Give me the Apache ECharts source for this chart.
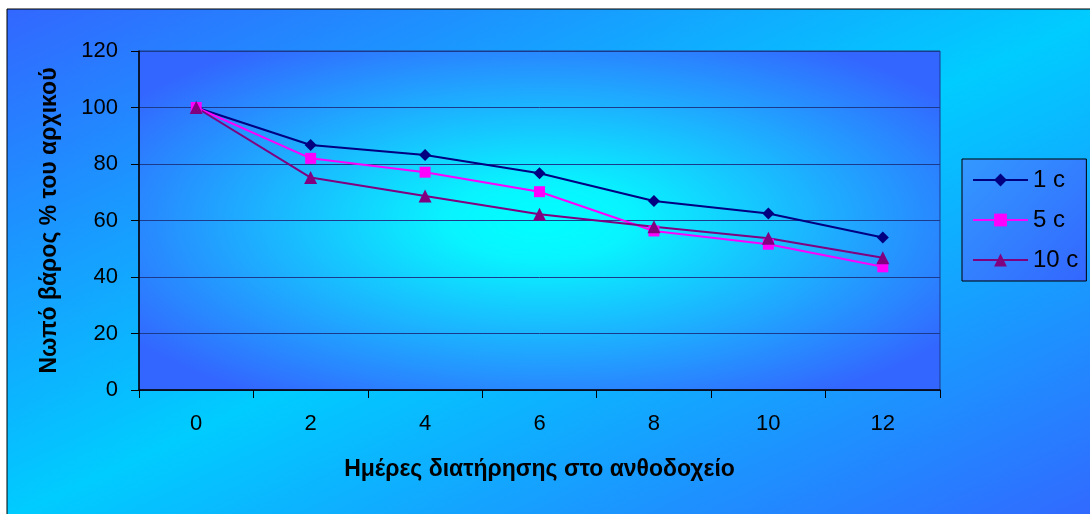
<!DOCTYPE html>
<html>
<head>
<meta charset="utf-8">
<script src="https://cdn.jsdelivr.net/npm/echarts@6/dist/echarts.min.js"></script>
<style>
  html, body { margin: 0; padding: 0; background: #ffffff; }
  #chart { width: 1090px; height: 514px; }
</style>
</head>
<body>
<div id="chart"></div>
<script>
// Days kept in the vase (category axis)
const days = ['0', '2', '4', '6', '8', '10', '12'];

// Fresh weight as % of the initial weight, per storage temperature
const series1c = [100, 86.7, 83.2, 76.7, 66.9, 62.5, 54.0];
const series5c = [100, 82.0, 77.1, 70.2, 56.3, 51.6, 43.6];
const series10c = [100, 75.2, 68.7, 62.2, 57.8, 53.7, 46.8];

const seriesNames = ['1 c', '5 c', '10 c'];

// Value axis ticks
const yMin = 0, yMax = 120, yStep = 20;

const xTitle = 'Ημέρες διατήρησης στο ανθοδοχείο';
const yTitle = 'Νωπό βάρος % του αρχικού';

const FONT = '"Liberation Sans", Arial, sans-serif';

// Plot rectangle
const G = { left: 139, top: 51, width: 801, height: 339 };

// Outer diagonal gradient: blue corners top-left / bottom-right, cyan along the other diagonal
const W = 1083, H = 505;
const s = H * H / (H * H + W * W);
const outerFill = new echarts.graphic.LinearGradient(0.5 - s, -(0.5 - s), 0.5 + s, 1 + (0.5 - s), [
  { offset: 0, color: '#3366ff' },
  { offset: 0.5, color: '#00ccff' },
  { offset: 1, color: '#3366ff' }
]);

// Plot area: cyan at the centre fading to blue at the edges
const plotFill = new echarts.graphic.RadialGradient(0.5, 0.5, 0.62, [
  { offset: 0, color: '#00ffff' },
  { offset: 0.18, color: '#08f4ff' },
  { offset: 1, color: '#3366ff' }
]);

const legendFill = new echarts.graphic.LinearGradient(0, 0, 1, 1, [
  { offset: 0, color: '#3399ff' },
  { offset: 1, color: '#3366ff' }
]);

const chart = echarts.init(document.getElementById('chart'), null, { renderer: 'canvas' });

chart.setOption({
  animation: false,
  backgroundColor: '#ffffff',
  graphic: [
    {
      type: 'rect', z: -20, silent: true,
      shape: { x: 7, y: 9, width: W + 10, height: H + 10 },
      style: { fill: outerFill, stroke: '#000000', lineWidth: 1 }
    },
    {
      type: 'rect', z: -10, silent: true,
      x: G.left, y: G.top, scaleX: G.width / G.height,
      shape: { x: 0, y: 0, width: G.height, height: G.height },
      style: { fill: plotFill }
    }
  ],
  grid: {
    left: G.left, top: G.top, width: G.width, height: G.height,
    show: true, borderColor: '#1c3a8c', borderWidth: 1,
    backgroundColor: 'transparent'
  },
  legend: {
    data: seriesNames,
    orient: 'vertical',
    left: 962, top: 159,
    padding: [7, 8, 7, 10],
    itemGap: 12,
    itemWidth: 55, itemHeight: 16,
    backgroundColor: legendFill,
    borderColor: '#000000', borderWidth: 1,
    textStyle: { fontFamily: FONT, fontSize: 24, lineHeight: 28, color: '#000000' }
  },
  xAxis: {
    type: 'category',
    data: days,
    boundaryGap: true,
    name: xTitle,
    nameLocation: 'middle',
    nameGap: 68,
    nameTextStyle: { fontFamily: FONT, fontSize: 23, fontWeight: 'bold', color: '#000000' },
    axisLine: { show: true, lineStyle: { color: '#000000', width: 1.5 } },
    axisTick: { show: true, length: 8, lineStyle: { color: '#000000' } },
    axisLabel: { margin: 23, fontFamily: FONT, fontSize: 22, color: '#000000' },
    splitLine: { show: false }
  },
  yAxis: {
    type: 'value',
    min: yMin, max: yMax, interval: yStep,
    name: yTitle,
    nameLocation: 'middle',
    nameGap: 78,
    nameRotate: 90,
    nameTextStyle: { fontFamily: FONT, fontSize: 23, fontWeight: 'bold', color: '#000000' },
    axisLine: { show: true, lineStyle: { color: '#000000', width: 1.5 } },
    axisTick: { show: true, length: 8, lineStyle: { color: '#000000' } },
    axisLabel: { margin: 21, fontFamily: FONT, fontSize: 22, color: '#000000' },
    splitLine: { show: true, lineStyle: { color: '#1c3a8c', width: 1 } }
  },
  series: [
    {
      name: seriesNames[0], type: 'line', data: series1c,
      symbol: 'diamond', symbolSize: 12,
      lineStyle: { color: '#000080', width: 2 },
      itemStyle: { color: '#000080' }
    },
    {
      name: seriesNames[1], type: 'line', data: series5c,
      symbol: 'rect', symbolSize: 11,
      lineStyle: { color: '#ff00ff', width: 2 },
      itemStyle: { color: '#ff00ff' }
    },
    {
      name: seriesNames[2], type: 'line', data: series10c,
      symbol: 'triangle', symbolSize: 13,
      lineStyle: { color: '#800080', width: 2 },
      itemStyle: { color: '#800080' }
    }
  ]
});
</script>
</body>
</html>
